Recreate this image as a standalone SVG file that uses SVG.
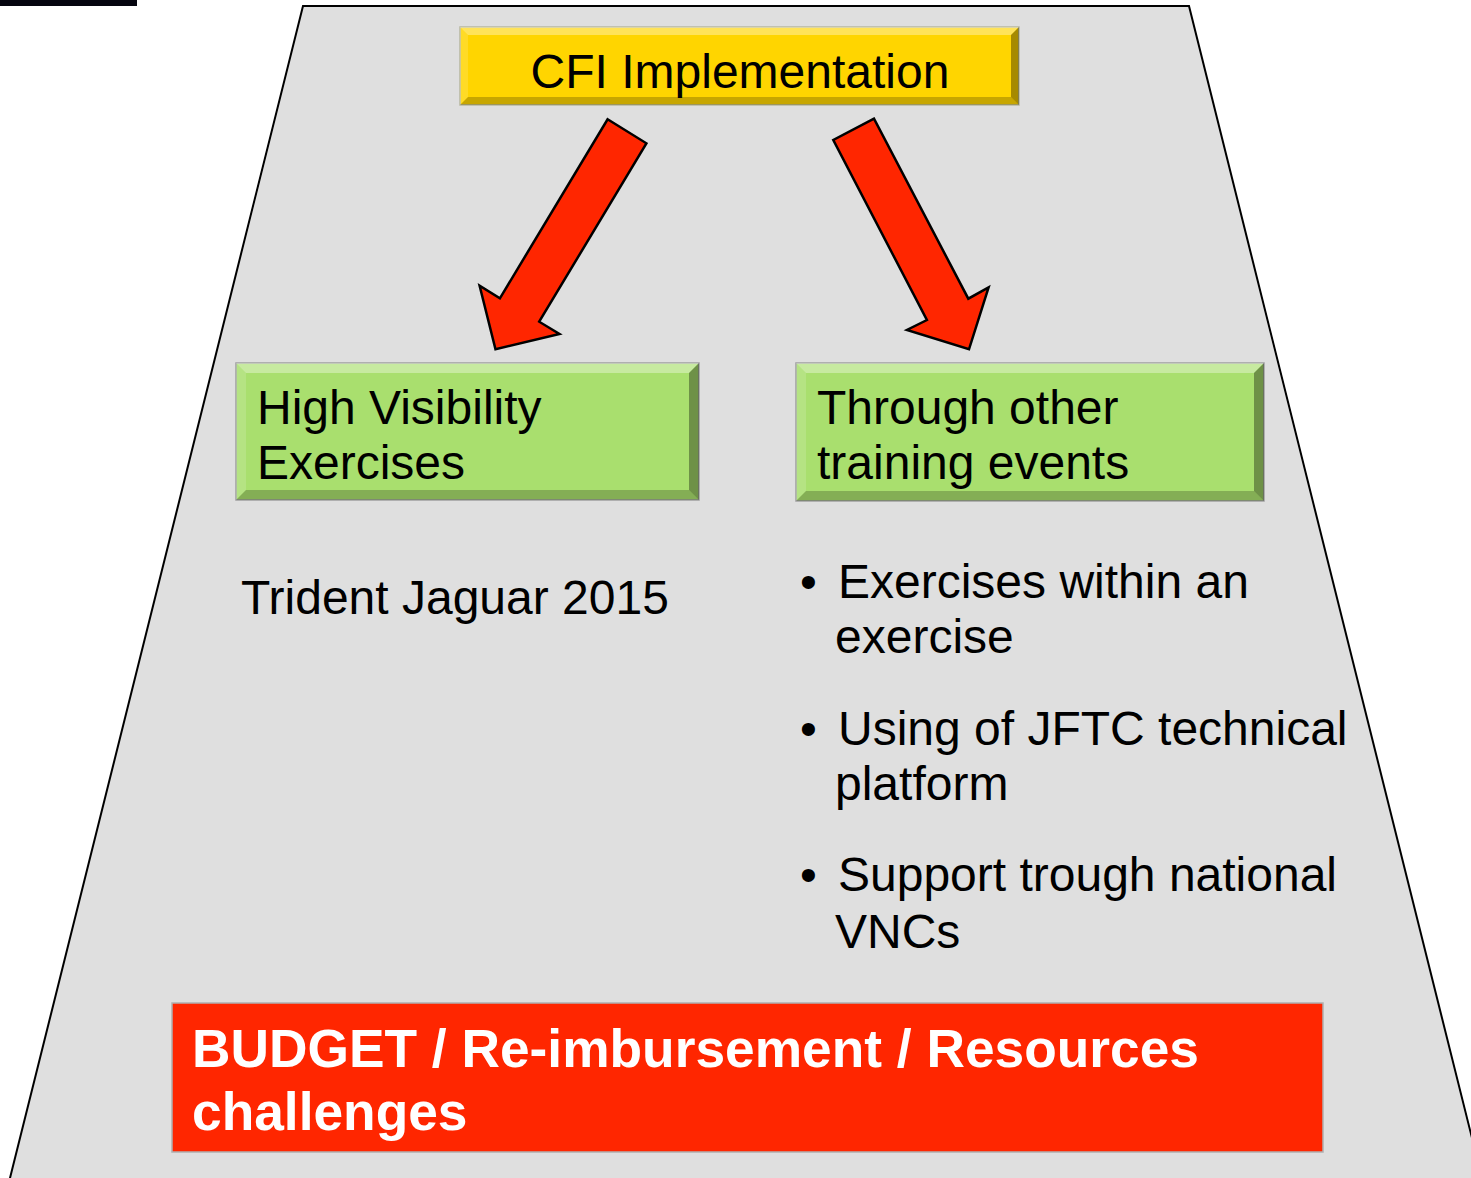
<svg xmlns="http://www.w3.org/2000/svg" width="1471" height="1178" viewBox="0 0 1471 1178">
<style>
.t{font-family:"Liberation Sans",Arial,sans-serif;fill:#000}
.b{font-family:"Liberation Sans",Arial,sans-serif;fill:#fff;font-weight:bold}
.arrow{fill:#FF2600;stroke:#000;stroke-width:2.5;stroke-linejoin:miter}
.hl{fill:#fff;opacity:0.35}
.hl2{fill:#fff;opacity:0.15}
.sh{fill:#000;opacity:0.22}
.sh2{fill:#000;opacity:0.35}
</style>
<rect width="1471" height="1178" fill="#fff"/>
<rect x="0" y="0" width="137" height="6" fill="#05050f"/>
<polygon points="303,6 1189,6 1485,1190 7,1190" fill="#DFDFDF" stroke="#000" stroke-width="2"/>

<g id="cfi">
<rect x="460" y="27" width="559" height="78" fill="#FFD500" stroke="#B8B8A0" stroke-width="1.5"/>
<polygon class="hl" points="460,27 1019,27 1011,35 468,35"/>
<polygon class="hl2" points="460,27 468,35 468,97 460,105"/>
<polygon class="sh" points="460,105 1019,105 1011,97 468,97"/>
<polygon class="sh2" points="1019,27 1019,105 1011,97 1011,35"/>
<text class="t" x="740" y="88" font-size="48" text-anchor="middle">CFI Implementation</text>
</g>

<g id="connectors">
<polygon class="arrow" points="607.6,119.3 646.4,143.3 539.2,321.7 559.5,334 495.5,349.3 479.6,285.7 499.9,298.3"/>
<polygon class="arrow" points="874,118.7 833.3,140 926.9,320 906.9,330 969,349.3 988.6,287.3 968.3,298.7"/>
</g>

<g id="hve">
<rect x="236" y="363" width="463" height="137" fill="#A9DF6E" stroke="#A0A0A0" stroke-width="1.5"/>
<polygon class="hl" points="236,363 699,363 689,373 246,373"/>
<polygon class="hl2" points="236,363 246,373 246,490 236,500"/>
<polygon class="sh" points="236,500 699,500 689,490 246,490"/>
<polygon class="sh2" points="699,363 699,500 689,490 689,373"/>
<text class="t" x="257" y="424" font-size="48">High Visibility</text>
<text class="t" x="257" y="479" font-size="48">Exercises</text>
</g>

<g id="tote">
<rect x="796" y="363" width="468" height="138" fill="#A9DF6E" stroke="#A0A0A0" stroke-width="1.5"/>
<polygon class="hl" points="796,363 1264,363 1254,373 806,373"/>
<polygon class="hl2" points="796,363 806,373 806,491 796,501"/>
<polygon class="sh" points="796,501 1264,501 1254,491 806,491"/>
<polygon class="sh2" points="1264,363 1264,501 1254,491 1254,373"/>
<text class="t" x="817" y="424" font-size="48">Through other</text>
<text class="t" x="817" y="479" font-size="48">training events</text>
</g>

<g id="trident">
<text class="t" x="241" y="614" font-size="48">Trident Jaguar 2015</text>
</g>

<g id="bullets">
<text class="t" x="800" y="598" font-size="48">•</text>
<text class="t" x="838" y="598" font-size="48">Exercises within an</text>
<text class="t" x="835" y="653" font-size="48">exercise</text>
<text class="t" x="800" y="745" font-size="48">•</text>
<text class="t" x="838" y="745" font-size="48">Using of JFTC technical</text>
<text class="t" x="835" y="800" font-size="48">platform</text>
<text class="t" x="800" y="891" font-size="48">•</text>
<text class="t" x="838" y="891" font-size="48">Support trough national</text>
<text class="t" x="835" y="948" font-size="48">VNCs</text>
</g>

<g id="budget">
<rect x="172" y="1003" width="1151" height="149" fill="#FF2600" stroke="#B0B0B0" stroke-width="1.5"/>
<text class="b" x="192" y="1067" font-size="53.3">BUDGET / Re-imbursement / Resources</text>
<text class="b" x="192" y="1130" font-size="53.3">challenges</text>
</g>
</svg>
